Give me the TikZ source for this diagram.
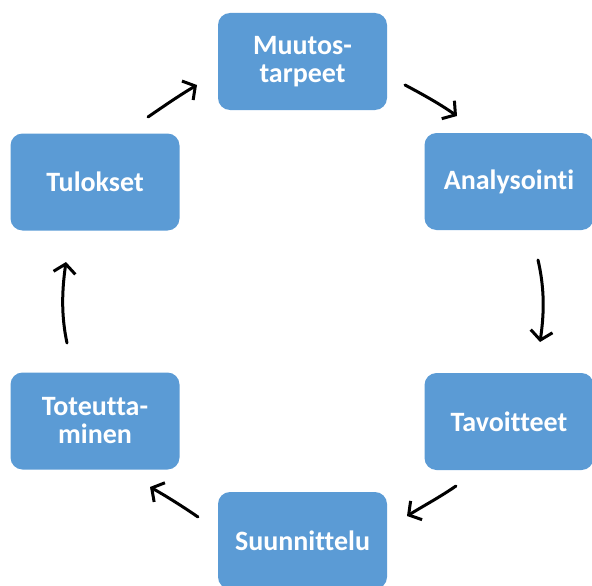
\documentclass[tikz,border=0pt]{standalone}
\usepackage{fontspec}
\setmainfont[Ligatures={NoCommon},RawFeature={-liga;-dlig}]{Carlito}
\usetikzlibrary{arrows.meta}
\definecolor{boxblue}{HTML}{5B9BD5}
\tikzset{
  phase/.style={draw=none, fill=boxblue, rounded corners=12pt,
    minimum width=169pt, minimum height=97pt, inner sep=0pt,
    text=white, align=center,
    font=\fontsize{28}{28}\selectfont\bfseries},
  flow/.style={line width=3pt, line cap=round,
    -{Straight Barb[length=9pt,width=22pt,line width=3pt]}}
}
\begin{document}
\begin{tikzpicture}[x=1pt,y=-1pt]
\useasboundingbox (0,0) rectangle (592,586);
% the six phases of the cycle
\node[phase] (mt) at (302.5,61.5) {Muutos-\\tarpeet};
\node[phase] (an) at (509,181.5) {Analysointi};
\node[phase] (ta) at (509,421.5) {Tavoitteet};
\node[phase] (su) at (302.5,540.5) {Suunnittelu};
\node[phase] (to) at (95,421) {Toteutta-\\minen};
\node[phase] (tu) at (95,182) {Tulokset};
% arrow end points between the phases
\coordinate (a1s) at (405,85);   \coordinate (a1e) at (457,116);
\coordinate (a2s) at (538,260);  \coordinate (a2e) at (540,342);
\coordinate (a3s) at (456,486);  \coordinate (a3e) at (407,516);
\coordinate (a4s) at (198,517);  \coordinate (a4e) at (150,487);
\coordinate (a5s) at (67,343);   \coordinate (a5e) at (66,262);
\coordinate (a6s) at (148,117);  \coordinate (a6e) at (197,85);
% hand-drawn style arrows
\draw[flow] (a1s) .. controls (422,94) and (440,104) .. (a1e);
\draw[flow] (a2s) .. controls (545,290) and (544,315) .. (a2e);
\draw[flow] (a3s) .. controls (440,497) and (425,505) .. (a3e);
\draw[flow] (a4s) .. controls (182,506) and (166,496) .. (a4e);
\draw[flow] (a5s) .. controls (61,315) and (62,290) .. (a5e);
\draw[flow] (a6s) .. controls (164,106) and (180,95) .. (a6e);
\end{tikzpicture}
\end{document}
